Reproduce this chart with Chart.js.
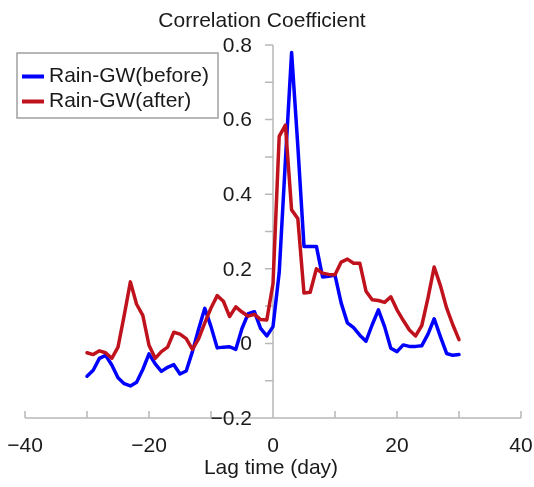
<!DOCTYPE html>
<html><head><meta charset="utf-8">
<script src="https://cdn.jsdelivr.net/npm/chart.js@4/dist/chart.umd.min.js"></script>
<style>html,body{margin:0;padding:0;background:#fff;}canvas{display:block;}</style>
</head><body>
<canvas id="c" width="534" height="487"></canvas>
<script>
const lags = [-30,-29,-28,-27,-26,-25,-24,-23,-22,-21,-20,-19,-18,-17,-16,-15,-14,-13,-12,-11,-10,-9,-8,-7,-6,-5,-4,-3,-2,-1,0,1,2,3,4,5,6,7,8,9,10,11,12,13,14,15,16,17,18,19,20,21,22,23,24,25,26,27,28,29,30];
const beforeVals = [-0.088,-0.072,-0.04,-0.032,-0.058,-0.092,-0.108,-0.114,-0.104,-0.07,-0.028,-0.055,-0.075,-0.064,-0.057,-0.082,-0.074,-0.022,0.038,0.094,0.045,-0.012,-0.01,-0.009,-0.016,0.04,0.08,0.085,0.04,0.02,0.045,0.19,0.49,0.78,0.53,0.26,0.26,0.26,0.178,0.18,0.183,0.108,0.055,0.042,0.022,0.006,0.05,0.09,0.045,-0.013,-0.022,-0.004,-0.008,-0.008,-0.006,0.025,0.066,0.018,-0.027,-0.032,-0.03];
const afterVals = [-0.025,-0.03,-0.02,-0.025,-0.04,-0.01,0.075,0.165,0.105,0.075,-0.005,-0.04,-0.022,-0.01,0.03,0.025,0.013,-0.016,0.012,0.055,0.095,0.128,0.113,0.072,0.098,0.084,0.073,0.078,0.064,0.063,0.16,0.555,0.585,0.358,0.335,0.135,0.137,0.2,0.188,0.185,0.184,0.218,0.226,0.215,0.215,0.14,0.117,0.115,0.11,0.125,0.09,0.062,0.036,0.02,0.048,0.122,0.205,0.155,0.095,0.05,0.01];
const seriesNames = ['Rain-GW(before)', 'Rain-GW(after)'];
const xTickValues = [-40,-30,-20,-10,0,10,20,30,40];
const xTickLabels = ['\u221240','','\u221220','','0','','20','','40'];
const yTickValues = [-0.2,-0.1,0,0.1,0.2,0.3,0.4,0.5,0.6,0.7,0.8];
const yTickLabels = ['\u22120.2','','0','','0.2','','0.4','','0.6','','0.8'];
const chartTitle = 'Correlation Coefficient';
const xTitle = 'Lag time (day)';

const BLUE = '#0000FF', RED = '#C0121C', AXIS = '#B8B8B8', TEXT = '#1a1a1a';
const FONT = '"Liberation Sans", Arial, Helvetica, sans-serif';

const axesPlugin = {
  id: 'customAxes',
  beforeDatasetsDraw(chart) {
    const {ctx} = chart;
    const xs = chart.scales.x, ys = chart.scales.y;
    const x0 = xs.getPixelForValue(0);
    const yb = ys.getPixelForValue(-0.2), yt = ys.getPixelForValue(0.8);
    ctx.save();
    ctx.strokeStyle = AXIS; ctx.lineWidth = 1.5;
    ctx.beginPath();
    ctx.moveTo(xs.getPixelForValue(-40), yb); ctx.lineTo(xs.getPixelForValue(40), yb);
    ctx.moveTo(x0, yb); ctx.lineTo(x0, yt);
    xTickValues.forEach(v => { const p = xs.getPixelForValue(v); ctx.moveTo(p, yb); ctx.lineTo(p, yb - 7); });
    yTickValues.forEach(v => { const p = ys.getPixelForValue(v); ctx.moveTo(x0, p); ctx.lineTo(x0 - 8, p); });
    ctx.stroke();
    ctx.fillStyle = TEXT;
    ctx.font = '21px ' + FONT;
    ctx.textAlign = 'center'; ctx.textBaseline = 'alphabetic';
    xTickValues.forEach((v, i) => { if (xTickLabels[i]) ctx.fillText(xTickLabels[i], xs.getPixelForValue(v), 452); });
    ctx.textAlign = 'right'; ctx.textBaseline = 'middle';
    yTickValues.forEach((v, i) => { if (yTickLabels[i]) ctx.fillText(yTickLabels[i], x0 - 21, ys.getPixelForValue(v) + 1); });
    ctx.textAlign = 'center'; ctx.textBaseline = 'alphabetic';
    ctx.fillText(xTitle, x0 - 2, 474);
    ctx.fillText(chartTitle, 262, 27);
    ctx.restore();
  },
  afterDraw(chart) {
    const {ctx} = chart;
    ctx.save();
    ctx.fillStyle = '#fff'; ctx.strokeStyle = '#A0A0A0'; ctx.lineWidth = 1.5;
    ctx.fillRect(17, 53, 201, 65); ctx.strokeRect(17, 53, 201, 65);
    const rows = [[seriesNames[0], BLUE, 76.5], [seriesNames[1], RED, 101.5]];
    ctx.font = '21px ' + FONT; ctx.textAlign = 'left'; ctx.textBaseline = 'middle';
    rows.forEach(([t, c, yy]) => {
      ctx.strokeStyle = c; ctx.lineWidth = 4; ctx.lineCap = 'butt';
      ctx.beginPath(); ctx.moveTo(22, yy); ctx.lineTo(44, yy); ctx.stroke();
      ctx.fillStyle = TEXT; ctx.fillText(t, 49, yy);
    });
    ctx.restore();
  }
};

new Chart(document.getElementById('c'), {
  type: 'line',
  data: {
    datasets: [
      { label: seriesNames[0], data: lags.map((l, i) => ({x: l, y: beforeVals[i]})), borderColor: BLUE, borderWidth: 3.5, pointRadius: 0, tension: 0, order: 2, borderJoinStyle: 'round', borderCapStyle: 'round' },
      { label: seriesNames[1], data: lags.map((l, i) => ({x: l, y: afterVals[i]})), borderColor: RED, borderWidth: 3.5, pointRadius: 0, tension: 0, order: 1, borderJoinStyle: 'round', borderCapStyle: 'round' }
    ]
  },
  options: {
    responsive: false, animation: false, devicePixelRatio: 1,
    layout: { padding: { left: 25, right: 13, top: 45, bottom: 69 } },
    plugins: { legend: { display: false }, title: { display: false }, tooltip: { enabled: false } },
    scales: {
      x: { type: 'linear', min: -40, max: 40, display: false },
      y: { type: 'linear', min: -0.2, max: 0.8, display: false }
    }
  },
  plugins: [axesPlugin]
});
</script>
</body></html>
